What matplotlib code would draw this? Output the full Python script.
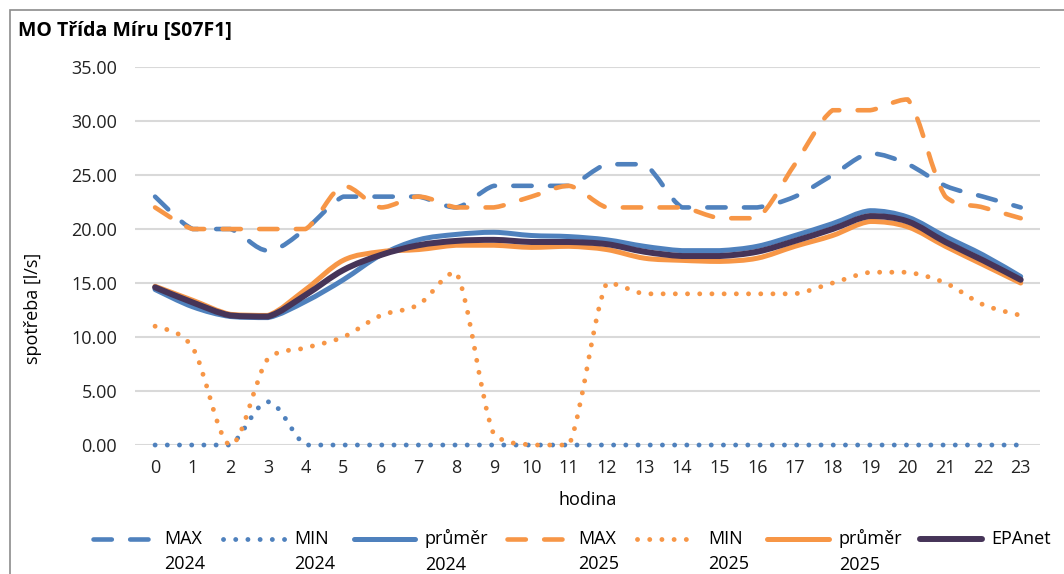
import matplotlib
matplotlib.use("Agg")
import numpy as np
import matplotlib.pyplot as plt
from matplotlib.patches import Rectangle, PathPatch
from matplotlib.path import Path
from matplotlib.lines import Line2D
from matplotlib.legend_handler import HandlerLine2D
from matplotlib.ticker import FormatStrFormatter

plt.rcParams['font.family'] = ['Open Sans', 'DejaVu Sans']

hours = list(range(24))

max_2024 = [23, 20, 20, 18, 20, 23, 23, 23, 22, 24, 24, 24,
            26, 26, 22, 22, 22, 23, 25, 27, 26, 24, 23, 22]
min_2024 = [0, 0, 0, 4, 0, 0, 0, 0, 0, 0, 0, 0,
            0, 0, 0, 0, 0, 0, 0, 0, 0, 0, 0, 0]
avg_2024 = [14.4, 12.8, 11.9, 11.8, 13.3, 15.3, 17.6, 19.0, 19.5, 19.7, 19.4, 19.3,
            19.0, 18.4, 18.0, 18.0, 18.4, 19.4, 20.5, 21.7, 21.1, 19.3, 17.6, 15.6]
max_2025 = [22, 20, 20, 20, 20, 24, 22, 23, 22, 22, 23, 24,
            22, 22, 22, 21, 21, 26, 31, 31, 32, 23, 22, 21]
min_2025 = [11, 9, 0, 8, 9, 10, 12, 13, 16, 1, 0, 0,
            15, 14, 14, 14, 14, 14, 15, 16, 16, 15, 13, 12]
avg_2025 = [14.7, 13.4, 12.1, 12.0, 14.4, 17.1, 17.9, 18.1, 18.5, 18.5, 18.3, 18.4,
            18.1, 17.3, 17.1, 17.0, 17.3, 18.4, 19.4, 20.7, 20.2, 18.4, 16.7, 15.0]
epanet = [14.6, 13.2, 12.0, 11.9, 13.9, 16.2, 17.6, 18.5, 18.9, 19.0, 18.8, 18.8,
          18.6, 17.9, 17.5, 17.5, 17.9, 18.9, 20.0, 21.2, 20.7, 18.8, 17.1, 15.3]

labels = ['MAX\n2024', 'MIN\n2024', 'průměr\n2024',
          'MAX\n2025', 'MIN\n2025', 'průměr\n2025', 'EPAnet\n ']

BLUE = '#4F81BD'
ORANGE = '#F79646'
PURPLE = '#463458'

dash = (0, (4.0, 4.0))
dot = (0, (0.01, 2.5))

series = [
    (max_2024, BLUE, 3.3, dash),
    (min_2024, BLUE, 3.5, dot),
    (avg_2024, BLUE, 3.6, 'solid'),
    (max_2025, ORANGE, 3.3, dash),
    (min_2025, ORANGE, 3.5, dot),
    (avg_2025, ORANGE, 3.6, 'solid'),
    (epanet, PURPLE, 4.3, 'solid'),
]


def smooth_path(x, y):
    # excel-like smoothed line: bezier through every point, no overshoot
    pts = np.column_stack([x, y]).astype(float)
    n = len(pts)
    verts = [pts[0]]
    codes = [Path.MOVETO]
    for i in range(n - 1):
        a, b = pts[i], pts[i + 1]
        p0 = pts[i - 1] if i > 0 else a
        p3 = pts[i + 2] if i + 2 < n else b
        c1 = a + (b - p0) / 6
        c2 = b - (p3 - a) / 6
        lo, hi = min(a[1], b[1]), max(a[1], b[1])
        c1[1] = np.clip(c1[1], lo, hi)
        c2[1] = np.clip(c2[1], lo, hi)
        verts += [c1, c2, b]
        codes += [Path.CURVE4] * 3
    return Path(verts, codes)


class FirstLineHandler(HandlerLine2D):
    # lift the handle to the first line of a two line label
    def create_artists(self, legend, orig_handle, xdescent, ydescent, width, height, fontsize, trans):
        artists = super().create_artists(legend, orig_handle, xdescent, ydescent,
                                         width, height, fontsize, trans)
        for a in artists:
            a.set_ydata(np.asarray(a.get_ydata()) + 9.5)
        return artists


fig = plt.figure(figsize=(10.64, 5.74), dpi=100)
ax = fig.add_axes([0.127, 0.2247, 0.85, 0.6585])

handles = []
for values, color, lw, ls in series:
    patch = PathPatch(smooth_path(hours, values), fill=False, edgecolor=color, lw=lw,
                      linestyle=ls, capstyle='round', joinstyle='round', clip_on=False)
    ax.add_patch(patch)
    handles.append(Line2D([], [], color=color, lw=lw, linestyle=ls,
                          dash_capstyle='round', solid_capstyle='round'))

ax.set_xlim(-0.53, 23.5)
ax.set_ylim(0, 35)
ax.set_xticks(hours)
ax.set_yticks(range(0, 36, 5))
ax.yaxis.set_major_formatter(FormatStrFormatter('%.2f'))
ax.tick_params(axis='both', length=0, labelsize=13, colors='#222222')
ax.tick_params(axis='y', pad=13)
ax.tick_params(axis='x', pad=10)
ax.grid(axis='y', color='#D9D9D9', lw=1.5)
ax.set_axisbelow(True)
for s in ax.spines.values():
    s.set_visible(False)

ax.set_xlabel('hodina', fontsize=13, labelpad=10)
ax.set_ylabel('spotřeba [l/s]', fontsize=13)
ax.yaxis.set_label_coords(-0.103, 0.362)

fig.text(18 / 1064, 1 - 31 / 574, 'MO Třída Míru [S07F1]', fontsize=14, fontweight='bold',
         va='center', ha='left')

fig.add_artist(Rectangle((10 / 1064, -0.1), 1.2, 1 - 10 / 574 + 0.1, transform=fig.transFigure,
                         fill=False, edgecolor='#8C8C8C', lw=1.2))

leg = ax.legend(handles, labels, loc='upper center', bbox_to_anchor=(572 / 1064, 1 - 529 / 574),
                bbox_transform=fig.transFigure, ncol=7, frameon=False,
                fontsize=13, handlelength=3.4, handletextpad=0.55, columnspacing=1.0,
                borderaxespad=0, borderpad=0, labelspacing=0,
                handler_map={Line2D: FirstLineHandler()})
for t in leg.get_texts():
    t.set_linespacing(1.55)

fig.savefig('out.png', dpi=100)
